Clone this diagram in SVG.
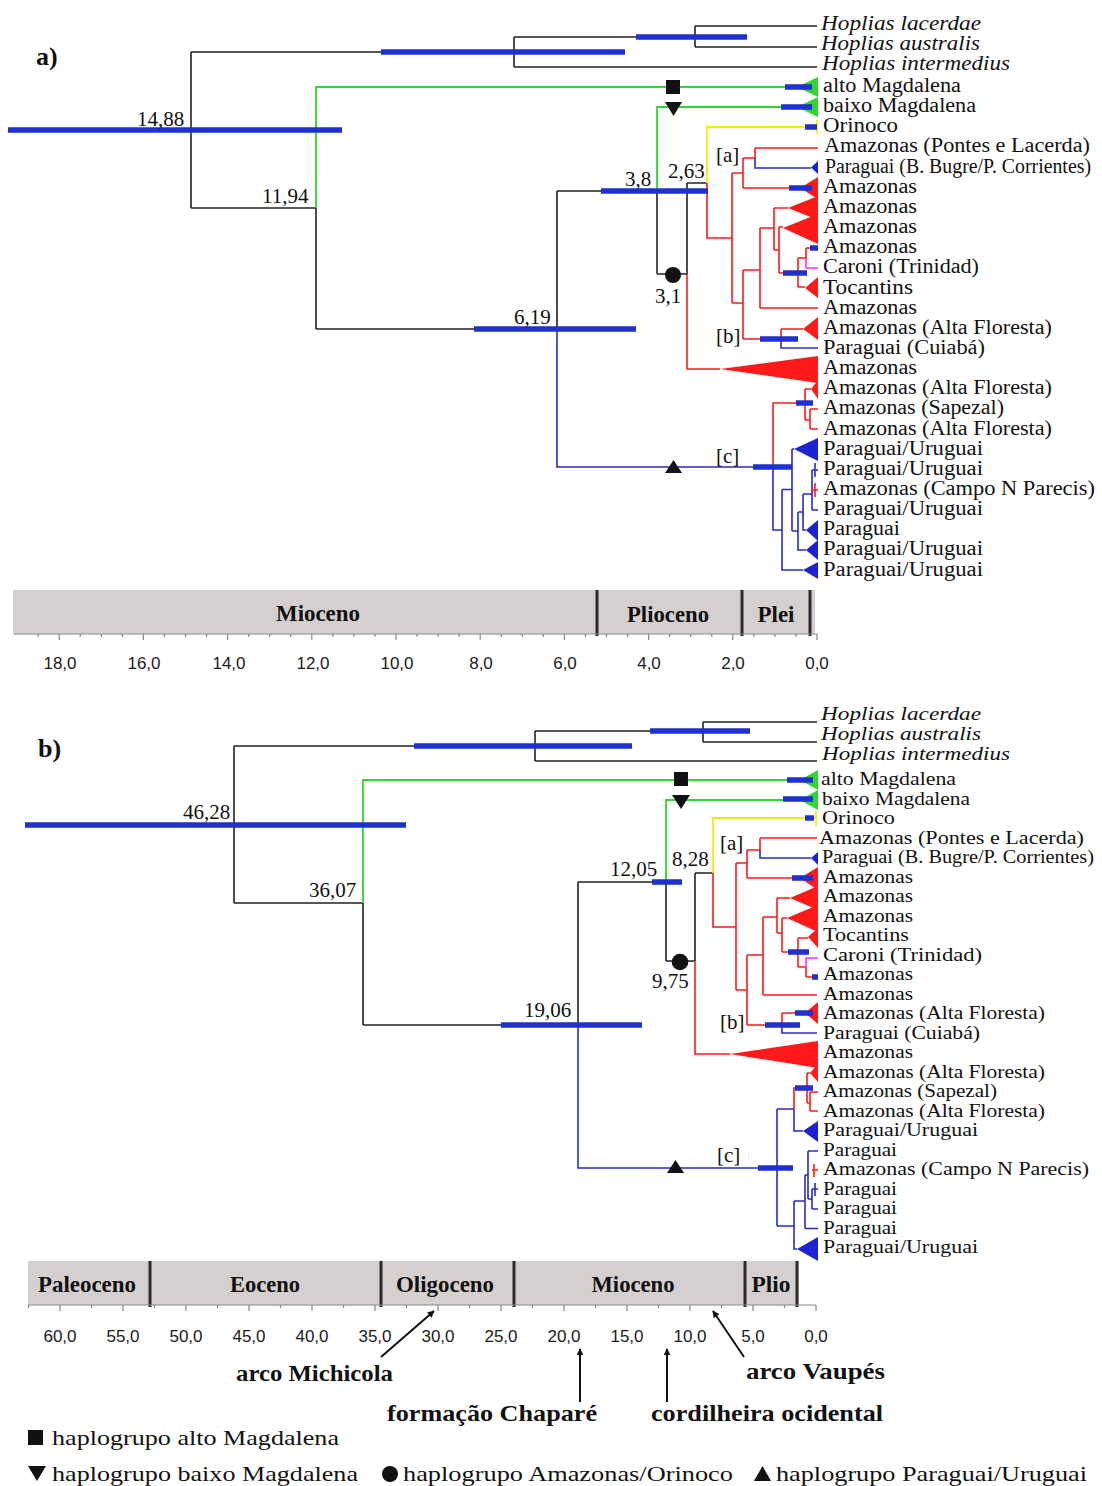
<svg xmlns="http://www.w3.org/2000/svg" width="1102" height="1486" viewBox="0 0 1102 1486">
<style>
.k{stroke:#222;stroke-width:1.6;fill:none}
.g{stroke:#2ed82e;stroke-width:1.8;fill:none}
.y{stroke:#f0f000;stroke-width:1.8;fill:none}
.r{stroke:#ff1a1a;stroke-width:1.6;fill:none}
.b{stroke:#2b2bc4;stroke-width:1.6;fill:none}
.m{stroke:#ff30ff;stroke-width:1.6;fill:none}
.bar{stroke:#1f30d0;stroke-width:5.5;fill:none}
.fr{fill:#ff1a1a}
.fg{fill:#2ed82e}
.fb{fill:#1f22d0}
.lbl{font-family:"Liberation Serif","Times New Roman",serif;font-size:20px;fill:#111}
.lb2{font-size:19.5px}
.it{font-style:italic}
.num{font-family:"Liberation Serif","Times New Roman",serif;font-size:21px;fill:#111}
.tick{font-family:"Liberation Sans",Arial,sans-serif;font-size:17px;fill:#1a1a1a;text-anchor:middle}
.ep{font-family:"Liberation Serif","Times New Roman",serif;font-size:23px;font-weight:bold;fill:#111;text-anchor:middle}
.ann{font-family:"Liberation Serif","Times New Roman",serif;font-size:24px;font-weight:bold;fill:#111}
.leg{font-family:"Liberation Serif","Times New Roman",serif;font-size:22px;fill:#111}
.pan{font-family:"Liberation Serif","Times New Roman",serif;font-size:26px;font-weight:bold;fill:#111}
.band{fill:#d5d0d0}
.div{stroke:#2a2a2a;stroke-width:3}
.ax{stroke:#888;stroke-width:1.2;fill:none}
.arr{stroke:#111;stroke-width:2;fill:none;marker-end:url(#ah)}
.mk{fill:#111}
</style>
<defs>
<marker id="ah" viewBox="0 0 10 10" refX="9" refY="5" markerWidth="7" markerHeight="7" orient="auto" markerUnits="userSpaceOnUse">
<path d="M0,0 L10,5 L0,10 z" fill="#111"/>
</marker>
</defs>
<rect width="1102" height="1486" fill="#fff"/>

<!-- ================= PANEL A ================= -->
<g id="panel-a">
<text class="pan" x="36" y="65">a)</text>
<g id="a-connectors">
<path class="k" d="M191,52 V208 M191,52 H514 M514,37 V67 M514,37 H695 M695,26 V47 M695,26 H817 M695,47 H817 M514,67 H817 M191,208 H316 M316,208 V329 M316,329 H557 M557,191 V329 M557,191 H657 M657,191 V274 M657,274 H687 M687,183 V274 M687,183 H707"/>
<path class="g" d="M316,208 V87 H797 M657,191 V107 H797"/>
<path class="y" d="M707,183 V127 H817 M817,120 V134"/>
<path class="r" d="M687,274 V369 H720 M707,183 V238 H732 M732,173 V303 M732,173 H743 M743,158 V188 M743,158 H755 M755,148 V158 M755,148 H818 M743,188 H800 M732,303 H743 M743,270 V339 M743,270 H760 M760,228 V308 M760,308 H818 M760,228 H774 M774,208 V250 M774,208 H788 M774,250 H779 M779,227 V273 M779,227 H783 M779,273 H798 M798,258 V287 M798,287 H805 M798,258 H806 M806,248 V258 M806,248 H818 M743,339 H781 M781,329 V339 M781,329 H803"/>
<path class="b" d="M755,158 V168 H811 M781,339 V348 H818"/>
<path class="m" d="M806,258 V268 H818"/>
<path class="b" d="M557,329 V467 H773 M773,467 V530 H782 M782,489.5 V570 H803 M782,489.5 H792 M792,449 V531 M792,449 H794 M792,531 H798 M798,512 V550 H806 M798,512 H803 M803,494 V530 H806 M803,494 H812 M812,470 V510 M812,470 H818 M812,510 H818 M815,463 V477"/>
<path class="r" d="M773,467 V403 H805 M805,389 V420 M805,389 H811 M805,420 H810 M810,409 V429 M810,409 H818 M810,429 H818 M815,483 V497 M812,490 H818"/>
</g>
<g id="a-clades">
<polygon class="fg" points="797,87 818,77 818,97"/>
<polygon class="fg" points="797,107 818,97 818,117"/>
<polygon class="fb" points="811,167.5 818,161 818,174"/>
<polygon class="fr" points="800,188 818,177 818,199"/>
<polygon class="fr" points="788,208 818,196 818,220"/>
<polygon class="fr" points="783,228 818,214 818,244"/>
<polygon class="fr" points="805,288 818,277 818,298"/>
<polygon class="fr" points="803,329 818,317 818,340"/>
<polygon class="fr" points="720,369 818,356 818,383"/>
<polygon class="fr" points="811,389 818,380 818,399"/>
<polygon class="fb" points="794,449 818,438 818,461"/>
<polygon class="fb" points="806,530 818,520 818,541"/>
<polygon class="fb" points="806,550 818,540 818,560"/>
<polygon class="fb" points="803,570 818,562 818,579"/>
</g>
<g id="a-bars">
<path class="bar" d="M8,130 H342 M381,52 H625 M636,37 H747 M474,329 H636 M601,191 H708 M785,87 H812 M781,107 H812 M805,127 H817 M789,188 H812 M783,273 H807 M810,248 H818 M760,339 H798 M796,403 H813 M753,467 H792"/>
</g>
<g id="a-events">
<rect class="mk" x="666" y="80" width="14" height="14"/>
<polygon class="mk" points="665,102 682,102 673.5,116"/>
<circle class="mk" cx="673" cy="275" r="8"/>
<polygon class="mk" points="665,473 682,473 673.5,460"/>
</g>
<g id="a-node-labels">
<text class="num" x="137" y="126">14,88</text>
<text class="num" x="262" y="203">11,94</text>
<text class="num" x="514" y="324">6,19</text>
<text class="num" x="625" y="186">3,8</text>
<text class="num" x="668" y="178">2,63</text>
<text class="num" x="655" y="303">3,1</text>
<text class="num" x="716" y="162">[a]</text>
<text class="num" x="716" y="343">[b]</text>
<text class="num" x="716" y="463">[c]</text>
</g>
<g id="a-tips">
<text id="a-t0" class="lbl it" x="821" y="30" textLength="160" lengthAdjust="spacingAndGlyphs">Hoplias lacerdae</text>
<text id="a-t1" class="lbl it" x="821" y="50" textLength="159" lengthAdjust="spacingAndGlyphs">Hoplias australis</text>
<text id="a-t2" class="lbl it" x="822" y="70" textLength="188" lengthAdjust="spacingAndGlyphs">Hoplias intermedius</text>
<text id="a-t3" class="lbl" x="823" y="92" textLength="138" lengthAdjust="spacingAndGlyphs">alto Magdalena</text>
<text id="a-t4" class="lbl" x="823" y="112" textLength="153" lengthAdjust="spacingAndGlyphs">baixo Magdalena</text>
<text id="a-t5" class="lbl" x="823" y="132.3" textLength="75" lengthAdjust="spacingAndGlyphs">Orinoco</text>
<text id="a-t6" class="lbl" x="824" y="152.4" textLength="266" lengthAdjust="spacingAndGlyphs">Amazonas (Pontes e Lacerda)</text>
<text id="a-t7" class="lbl" x="825" y="172.6" textLength="266" lengthAdjust="spacingAndGlyphs">Paraguai (B. Bugre/P. Corrientes)</text>
<text id="a-t8" class="lbl" x="823" y="192.7" textLength="94" lengthAdjust="spacingAndGlyphs">Amazonas</text>
<text id="a-t9" class="lbl" x="823" y="212.9" textLength="94" lengthAdjust="spacingAndGlyphs">Amazonas</text>
<text id="a-t10" class="lbl" x="823" y="233" textLength="94" lengthAdjust="spacingAndGlyphs">Amazonas</text>
<text id="a-t11" class="lbl" x="823" y="253.2" textLength="94" lengthAdjust="spacingAndGlyphs">Amazonas</text>
<text id="a-t12" class="lbl" x="823" y="273.3" textLength="156" lengthAdjust="spacingAndGlyphs">Caroni (Trinidad)</text>
<text id="a-t13" class="lbl" x="823" y="293.5" textLength="90" lengthAdjust="spacingAndGlyphs">Tocantins</text>
<text id="a-t14" class="lbl" x="823" y="313.6" textLength="94" lengthAdjust="spacingAndGlyphs">Amazonas</text>
<text id="a-t15" class="lbl" x="823" y="333.8" textLength="229" lengthAdjust="spacingAndGlyphs">Amazonas (Alta Floresta)</text>
<text id="a-t16" class="lbl" x="823" y="353.9" textLength="162" lengthAdjust="spacingAndGlyphs">Paraguai (Cuiabá)</text>
<text id="a-t17" class="lbl" x="823" y="374" textLength="94" lengthAdjust="spacingAndGlyphs">Amazonas</text>
<text id="a-t18" class="lbl" x="823" y="394.2" textLength="229" lengthAdjust="spacingAndGlyphs">Amazonas (Alta Floresta)</text>
<text id="a-t19" class="lbl" x="823" y="414.4" textLength="181" lengthAdjust="spacingAndGlyphs">Amazonas (Sapezal)</text>
<text id="a-t20" class="lbl" x="823" y="434.5" textLength="229" lengthAdjust="spacingAndGlyphs">Amazonas (Alta Floresta)</text>
<text id="a-t21" class="lbl" x="823" y="454.7" textLength="160" lengthAdjust="spacingAndGlyphs">Paraguai/Uruguai</text>
<text id="a-t22" class="lbl" x="823" y="474.8" textLength="160" lengthAdjust="spacingAndGlyphs">Paraguai/Uruguai</text>
<text id="a-t23" class="lbl" x="823" y="495" textLength="272" lengthAdjust="spacingAndGlyphs">Amazonas (Campo N Parecis)</text>
<text id="a-t24" class="lbl" x="823" y="515.1" textLength="160" lengthAdjust="spacingAndGlyphs">Paraguai/Uruguai</text>
<text id="a-t25" class="lbl" x="823" y="535.3" textLength="77" lengthAdjust="spacingAndGlyphs">Paraguai</text>
<text id="a-t26" class="lbl" x="823" y="555.4" textLength="160" lengthAdjust="spacingAndGlyphs">Paraguai/Uruguai</text>
<text id="a-t27" class="lbl" x="823" y="575.6" textLength="160" lengthAdjust="spacingAndGlyphs">Paraguai/Uruguai</text>
</g>
<g id="a-timescale">
<rect class="band" x="13" y="590" width="802" height="44"/>
<path class="div" d="M597,590 V636 M742,590 V636 M810,590 V636"/>
<text class="ep" x="318" y="621" textLength="84" lengthAdjust="spacingAndGlyphs">Mioceno</text>
<text class="ep" x="668" y="622" textLength="82" lengthAdjust="spacingAndGlyphs">Plioceno</text>
<text class="ep" x="776" y="622" textLength="37" lengthAdjust="spacingAndGlyphs">Plei</text>
<path class="ax" d="M14,634 H817"/>
<path class="ax" d="M817,634 v6 M795.95,634 v3 M774.9,634 v3 M753.85,634 v3 M732.8,634 v6 M711.75,634 v3 M690.7,634 v3 M669.65,634 v3 M648.6,634 v6 M627.55,634 v3 M606.5,634 v3 M585.45,634 v3 M564.4,634 v6 M543.35,634 v3 M522.3,634 v3 M501.25,634 v3 M480.2,634 v6 M459.15,634 v3 M438.1,634 v3 M417.05,634 v3 M396,634 v6 M374.95,634 v3 M353.9,634 v3 M332.85,634 v3 M311.8,634 v6 M290.75,634 v3 M269.7,634 v3 M248.65,634 v3 M227.6,634 v6 M206.55,634 v3 M185.5,634 v3 M164.45,634 v3 M143.4,634 v6 M122.35,634 v3 M101.3,634 v3 M80.25,634 v3 M59.2,634 v6 M38.15,634 v3"/>
<text class="tick" x="60" y="669">18,0</text>
<text class="tick" x="144" y="669">16,0</text>
<text class="tick" x="229" y="669">14,0</text>
<text class="tick" x="313" y="669">12,0</text>
<text class="tick" x="397" y="669">10,0</text>
<text class="tick" x="481" y="669">8,0</text>
<text class="tick" x="565" y="669">6,0</text>
<text class="tick" x="649" y="669">4,0</text>
<text class="tick" x="733" y="669">2,0</text>
<text class="tick" x="817" y="669">0,0</text>
</g>
</g>

<!-- ================= PANEL B ================= -->
<g id="panel-b">
<text class="pan" x="38" y="757">b)</text>
<g id="b-connectors">
<path class="k" d="M234,746 V903 M234,746 H535 M535,731 V761 M535,731 H703 M703,722 V742 M703,722 H817 M703,742 H817 M535,761 H817 M234,903 H363 M363,903 V1025 M363,1025 H578 M578,882 V1025 M578,882 H666 M666,882 V961 M666,961 H695 M695,873 V961 M695,873 H713"/>
<path class="g" d="M363,903 V780 H800 M666,882 V800 H800"/>
<path class="y" d="M713,873 V818 H816 M816,811 V826"/>
<path class="r" d="M695,961 V1054 H730 M713,873 V927 H736 M736,863 V990 M736,863 H747 M747,850 V878 M747,850 H760 M760,838 V850 M760,838 H817 M747,878 H800 M736,990 H747 M747,955 V1025 M747,1025 H782 M782,1013 V1025 M782,1013 H805 M747,955 H763 M763,917 V995 M763,995 H817 M763,917 H777 M777,898 V933 M777,898 H790 M777,933 H782 M782,918 V952 M782,918 H787 M782,952 H798 M798,938 V967 M798,938 H808 M798,967 H806 M806,967 V977 M806,977 H818"/>
<path class="m" d="M806,967 V958 H818"/>
<path class="b" d="M760,850 V858 H811 M782,1025 V1033 H817"/>
<path class="b" d="M578,1025 V1168 H777 M777,1109 V1226 M777,1109 H794 M794,1109 V1131 H803 M777,1226 H794 M794,1201 V1249 H797 M794,1201 H805 M805,1175 V1228.5 M805,1228.5 H818 M805,1175 H808 M808,1151 V1199 M808,1151 H818 M808,1199 H812 M812,1189 V1209 M812,1189 H818 M812,1209 H818 M815,1183 V1196"/>
<path class="r" d="M794,1109 V1088 H807 M807,1073 V1103 M807,1073 H810 M807,1103 H810 M810,1092 V1111 M810,1092 H818 M810,1111 H818 M814,1164 V1177 M812,1170 H818"/>
</g>
<g id="b-clades">
<polygon class="fg" points="800,780 818,770 818,790"/>
<polygon class="fg" points="800,800 818,790 818,810"/>
<polygon class="fb" points="811,858 818,852 818,865"/>
<polygon class="fr" points="800,878 818,867 818,890"/>
<polygon class="fr" points="790,898 818,886 818,910"/>
<polygon class="fr" points="787,918 818,905 818,932"/>
<polygon class="fr" points="808,937 818,928 818,948"/>
<polygon class="fr" points="805,1013 818,1002 818,1024"/>
<polygon class="fr" points="730,1054 818,1041 818,1068"/>
<polygon class="fr" points="810,1073 818,1064 818,1082"/>
<polygon class="fb" points="803,1131 818,1121 818,1142"/>
<polygon class="fb" points="797,1249 818,1237 818,1261"/>
</g>
<g id="b-bars">
<path class="bar" d="M25,825 H406 M414,746 H632 M650,731 H750 M501,1025 H642 M652,882 H682 M787,780 H813 M783,799 H813 M805,818 H814 M792,878 H813 M788,952 H809 M812,977 H818 M765,1025 H800 M795,1013 H813 M795,1088 H813 M758,1168 H793"/>
</g>
<g id="b-events">
<rect class="mk" x="674" y="772" width="14" height="14"/>
<polygon class="mk" points="672,795 690,795 681,809"/>
<circle class="mk" cx="680" cy="962" r="8.3"/>
<polygon class="mk" points="667,1173 684,1173 675.5,1160"/>
</g>
<g id="b-node-labels">
<text class="num" x="183" y="819">46,28</text>
<text class="num" x="309" y="897">36,07</text>
<text class="num" x="524" y="1017">19,06</text>
<text class="num" x="610" y="876">12,05</text>
<text class="num" x="672" y="866">8,28</text>
<text class="num" x="652" y="988">9,75</text>
<text class="num" x="720" y="850">[a]</text>
<text class="num" x="720" y="1029">[b]</text>
<text class="num" x="717" y="1162">[c]</text>
</g>
<g id="b-tips">
<text id="b-t0" class="lbl lb2 it" x="821" y="720" textLength="160" lengthAdjust="spacingAndGlyphs">Hoplias lacerdae</text>
<text id="b-t1" class="lbl lb2 it" x="821" y="740" textLength="160" lengthAdjust="spacingAndGlyphs">Hoplias australis</text>
<text id="b-t2" class="lbl lb2 it" x="822" y="760" textLength="188" lengthAdjust="spacingAndGlyphs">Hoplias intermedius</text>
<text id="b-t3" class="lbl lb2" x="821" y="785.4" textLength="135" lengthAdjust="spacingAndGlyphs">alto Magdalena</text>
<text id="b-t4" class="lbl lb2" x="822" y="804.9" textLength="148" lengthAdjust="spacingAndGlyphs">baixo Magdalena</text>
<text id="b-t5" class="lbl lb2" x="822" y="824.4" textLength="73" lengthAdjust="spacingAndGlyphs">Orinoco</text>
<text id="b-t6" class="lbl lb2" x="819" y="843.9" textLength="265" lengthAdjust="spacingAndGlyphs">Amazonas (Pontes e Lacerda)</text>
<text id="b-t7" class="lbl lb2" x="822" y="863.4" textLength="272" lengthAdjust="spacingAndGlyphs">Paraguai (B. Bugre/P. Corrientes)</text>
<text id="b-t8" class="lbl lb2" x="823" y="882.8" textLength="90" lengthAdjust="spacingAndGlyphs">Amazonas</text>
<text id="b-t9" class="lbl lb2" x="823" y="902.3" textLength="90" lengthAdjust="spacingAndGlyphs">Amazonas</text>
<text id="b-t10" class="lbl lb2" x="823" y="921.8" textLength="90" lengthAdjust="spacingAndGlyphs">Amazonas</text>
<text id="b-t11" class="lbl lb2" x="823" y="941.3" textLength="86" lengthAdjust="spacingAndGlyphs">Tocantins</text>
<text id="b-t12" class="lbl lb2" x="823" y="960.8" textLength="159" lengthAdjust="spacingAndGlyphs">Caroni (Trinidad)</text>
<text id="b-t13" class="lbl lb2" x="823" y="980.2" textLength="90" lengthAdjust="spacingAndGlyphs">Amazonas</text>
<text id="b-t14" class="lbl lb2" x="823" y="999.7" textLength="90" lengthAdjust="spacingAndGlyphs">Amazonas</text>
<text id="b-t15" class="lbl lb2" x="823" y="1019.2" textLength="222" lengthAdjust="spacingAndGlyphs">Amazonas (Alta Floresta)</text>
<text id="b-t16" class="lbl lb2" x="823" y="1038.7" textLength="157" lengthAdjust="spacingAndGlyphs">Paraguai (Cuiabá)</text>
<text id="b-t17" class="lbl lb2" x="823" y="1058.2" textLength="90" lengthAdjust="spacingAndGlyphs">Amazonas</text>
<text id="b-t18" class="lbl lb2" x="823" y="1077.6" textLength="222" lengthAdjust="spacingAndGlyphs">Amazonas (Alta Floresta)</text>
<text id="b-t19" class="lbl lb2" x="823" y="1097.1" textLength="174" lengthAdjust="spacingAndGlyphs">Amazonas (Sapezal)</text>
<text id="b-t20" class="lbl lb2" x="823" y="1116.6" textLength="222" lengthAdjust="spacingAndGlyphs">Amazonas (Alta Floresta)</text>
<text id="b-t21" class="lbl lb2" x="823" y="1136.1" textLength="155" lengthAdjust="spacingAndGlyphs">Paraguai/Uruguai</text>
<text id="b-t22" class="lbl lb2" x="823" y="1155.6" textLength="74" lengthAdjust="spacingAndGlyphs">Paraguai</text>
<text id="b-t23" class="lbl lb2" x="823" y="1175" textLength="266" lengthAdjust="spacingAndGlyphs">Amazonas (Campo N Parecis)</text>
<text id="b-t24" class="lbl lb2" x="823" y="1194.5" textLength="74" lengthAdjust="spacingAndGlyphs">Paraguai</text>
<text id="b-t25" class="lbl lb2" x="823" y="1214" textLength="74" lengthAdjust="spacingAndGlyphs">Paraguai</text>
<text id="b-t26" class="lbl lb2" x="823" y="1233.5" textLength="74" lengthAdjust="spacingAndGlyphs">Paraguai</text>
<text id="b-t27" class="lbl lb2" x="823" y="1253" textLength="155" lengthAdjust="spacingAndGlyphs">Paraguai/Uruguai</text>
</g>
<g id="b-timescale">
<rect class="band" x="28" y="1261" width="771" height="44"/>
<path class="div" d="M150,1261 V1307 M381,1261 V1307 M514,1261 V1307 M745,1261 V1307 M797,1261 V1307"/>
<text class="ep" x="87" y="1292" textLength="98" lengthAdjust="spacingAndGlyphs">Paleoceno</text>
<text class="ep" x="265" y="1292" textLength="70" lengthAdjust="spacingAndGlyphs">Eoceno</text>
<text class="ep" x="445" y="1292" textLength="98" lengthAdjust="spacingAndGlyphs">Oligoceno</text>
<text class="ep" x="633" y="1292" textLength="83" lengthAdjust="spacingAndGlyphs">Mioceno</text>
<text class="ep" x="771" y="1292" textLength="39" lengthAdjust="spacingAndGlyphs">Plio</text>
<path class="ax" d="M28,1305 H816"/>
<path class="ax" d="M816,1305 v6 M784.5,1305 v3 M753,1305 v6 M721.5,1305 v3 M690,1305 v6 M658.5,1305 v3 M627,1305 v6 M595.5,1305 v3 M564,1305 v6 M532.5,1305 v3 M501,1305 v6 M469.5,1305 v3 M438,1305 v6 M406.5,1305 v3 M375,1305 v6 M343.5,1305 v3 M312,1305 v6 M280.5,1305 v3 M249,1305 v6 M217.5,1305 v3 M186,1305 v6 M154.5,1305 v3 M123,1305 v6 M91.5,1305 v3 M60,1305 v6 M28.5,1305 v3"/>
<text class="tick" x="60" y="1342">60,0</text>
<text class="tick" x="123" y="1342">55,0</text>
<text class="tick" x="186" y="1342">50,0</text>
<text class="tick" x="249" y="1342">45,0</text>
<text class="tick" x="312" y="1342">40,0</text>
<text class="tick" x="375" y="1342">35,0</text>
<text class="tick" x="438" y="1342">30,0</text>
<text class="tick" x="501" y="1342">25,0</text>
<text class="tick" x="564" y="1342">20,0</text>
<text class="tick" x="627" y="1342">15,0</text>
<text class="tick" x="690" y="1342">10,0</text>
<text class="tick" x="753" y="1342">5,0</text>
<text class="tick" x="816" y="1342">0,0</text>
</g>
<g id="b-events-geo">
<path class="arr" d="M381,1357 L434,1311"/>
<path class="arr" d="M580,1402 V1349"/>
<path class="arr" d="M667,1402 V1349"/>
<path class="arr" d="M744,1357 L713,1311"/>
<text class="ann" x="236" y="1381" textLength="157" lengthAdjust="spacingAndGlyphs">arco Michicola</text>
<text class="ann" x="746" y="1379" textLength="139" lengthAdjust="spacingAndGlyphs">arco Vaupés</text>
<text class="ann" x="387" y="1421" textLength="210" lengthAdjust="spacingAndGlyphs">formação Chaparé</text>
<text class="ann" x="651" y="1421" textLength="232" lengthAdjust="spacingAndGlyphs">cordilheira ocidental</text>
</g>
</g>

<!-- ================= LEGEND ================= -->
<g id="legend">
<rect class="mk" x="28" y="1430" width="15" height="15"/>
<text class="leg" x="52" y="1445" textLength="287" lengthAdjust="spacingAndGlyphs">haplogrupo alto Magdalena</text>
<polygon class="mk" points="28,1466 46,1466 37,1481"/>
<text class="leg" x="52" y="1481" textLength="306" lengthAdjust="spacingAndGlyphs">haplogrupo baixo Magdalena</text>
<circle class="mk" cx="390" cy="1474" r="8"/>
<text class="leg" x="403" y="1481" textLength="330" lengthAdjust="spacingAndGlyphs">haplogrupo Amazonas/Orinoco</text>
<polygon class="mk" points="754,1481 771,1481 762.5,1466"/>
<text class="leg" x="776" y="1481" textLength="311" lengthAdjust="spacingAndGlyphs">haplogrupo Paraguai/Uruguai</text>
</g>
</svg>
